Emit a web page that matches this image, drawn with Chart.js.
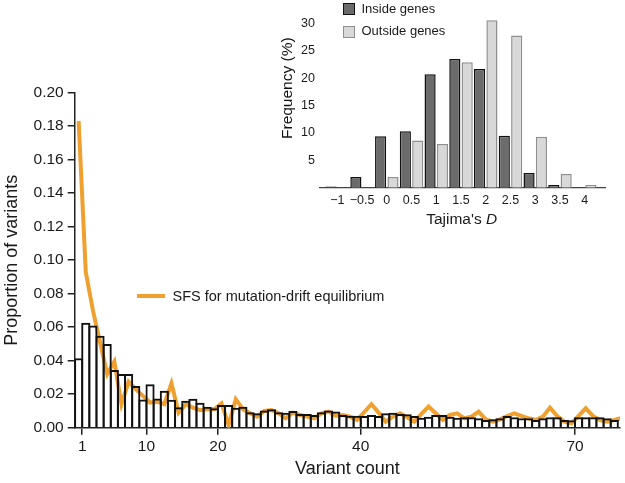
<!DOCTYPE html>
<html><head><meta charset="utf-8">
<script src="https://cdn.jsdelivr.net/npm/chart.js@4/dist/chart.umd.min.js"></script>
<style>
html,body{margin:0;padding:0;background:#fff;}
#wrap{position:relative;width:625px;height:483px;overflow:hidden;font-family:"Liberation Sans",Arial,sans-serif;color:#1a1a1a;}
canvas{position:absolute;}
#main{left:0;top:0;width:625px;height:483px;}
#inset{left:275px;top:0;width:345px;height:235px;}
.lbl{position:absolute;white-space:nowrap;font-weight:normal;}
.sw{position:absolute;box-sizing:border-box;width:12px;height:12px;}
</style></head><body>
<div id="wrap">
<canvas id="main" width="625" height="483"></canvas>
<canvas id="inset" width="345" height="235"></canvas>
<div class="lbl" style="left:137px;top:294px;width:28px;height:4px;background:#EFA02E"></div>
<div class="lbl" style="left:172.5px;top:287px;font-size:14.5px;line-height:18px">SFS for mutation-drift equilibrium</div>
<div class="sw" style="left:343px;top:3px;background:#6b6b6b;border:1.5px solid #111"></div>
<div class="lbl" style="left:361.5px;top:0.5px;font-size:13px;line-height:16px">Inside genes</div>
<div class="sw" style="left:343px;top:25.5px;background:#d8d8d8;border:1.5px solid #8f8f8f"></div>
<div class="lbl" style="left:361.5px;top:23px;font-size:13px;line-height:16px">Outside genes</div>
<div class="lbl" style="left:361.7px;top:208.5px;width:200px;text-align:center;font-size:15.5px;line-height:19px">Tajima's <i>D</i></div>
<div class="lbl" style="left:276.5px;top:39px;width:19px;height:100px;font-size:15.5px;line-height:19px;color:#111;writing-mode:vertical-rl;transform:rotate(180deg);text-align:center">Frequency (%)</div>
</div>
<script>
// ---- Main chart data ----
const variantCount = Array.from({length: 76}, (_, i) => i + 1);
const variantProportion = [
  0.0414, 0.0627, 0.0610, 0.0549, 0.0500, 0.0344, 0.0320, 0.0320, 0.0249, 0.0169,
  0.0259, 0.0175, 0.0221, 0.0167, 0.0122, 0.0161, 0.0173, 0.0149, 0.0125, 0.0116,
  0.0135, 0.0135, 0.0119, 0.0125, 0.0092, 0.0086, 0.0102, 0.0110, 0.0092, 0.0090,
  0.0100, 0.0082, 0.0082, 0.0076, 0.0092, 0.0102, 0.0096, 0.0076, 0.0072, 0.0072,
  0.0070, 0.0076, 0.0070, 0.0086, 0.0090, 0.0082, 0.0080, 0.0070, 0.0060, 0.0066,
  0.0076, 0.0076, 0.0066, 0.0060, 0.0062, 0.0062, 0.0056, 0.0046, 0.0050, 0.0056,
  0.0070, 0.0062, 0.0056, 0.0056, 0.0046, 0.0056, 0.0062, 0.0062, 0.0046, 0.0044,
  0.0062, 0.0062, 0.0062, 0.0062, 0.0056, 0.0046
];
const sfsEquilibrium = [
  0.1830, 0.0930, 0.0700, 0.0510, 0.0320, 0.0395, 0.0140, 0.0275, 0.0230, 0.0190,
  0.0150, 0.0155, 0.0140, 0.0265, 0.0090, 0.0140, 0.0120, 0.0105, 0.0110, 0.0110,
  0.0145, 0.0016, 0.0170, 0.0110, 0.0086, 0.0066, 0.0100, 0.0106, 0.0086, 0.0056,
  0.0090, 0.0076, 0.0066, 0.0056, 0.0086, 0.0096, 0.0072, 0.0076, 0.0066, 0.0046,
  0.0094, 0.0140, 0.0090, 0.0036, 0.0066, 0.0086, 0.0062, 0.0036, 0.0082, 0.0126,
  0.0086, 0.0046, 0.0076, 0.0086, 0.0056, 0.0066, 0.0096, 0.0050, 0.0036, 0.0050,
  0.0070, 0.0086, 0.0070, 0.0056, 0.0046, 0.0066, 0.0120, 0.0070, 0.0036, 0.0026,
  0.0070, 0.0116, 0.0070, 0.0046, 0.0036, 0.0046, 0.0058
];
const xTickValues = [1, 10, 20, 40, 70];
const xTickLabels = ['1', '10', '20', '40', '70'];
const yTickValues = [0, 0.02, 0.04, 0.06, 0.08, 0.10, 0.12, 0.14, 0.16, 0.18, 0.20];

// ---- Inset data ----
const tajimaBins = [-1, -0.5, 0, 0.5, 1, 1.5, 2, 2.5, 3, 3.5, 4];
const tajimaLabels = ['\u22121', '\u22120.5', '0', '0.5', '1', '1.5', '2', '2.5', '3', '3.5', '4'];
const insideGenes = [0.2, 1.95, 9.4, 10.3, 20.7, 23.5, 21.7, 9.5, 2.7, 0.5, 0];
const outsideGenes = [0, 0, 1.95, 8.6, 8.0, 22.9, 30.6, 27.8, 9.3, 2.5, 0.5];
const freqTicks = [5, 10, 15, 20, 25, 30];

const FONT = '"Liberation Sans", Arial, sans-serif';
const INK = '#1a1a1a';

new Chart(document.getElementById('main'), {
  type: 'bar',
  data: {
    datasets: [
      {
        type: 'bar',
        data: variantProportion.map((v, i) => ({x: variantCount[i] - 0.5, y: v})),
        backgroundColor: 'rgba(255,255,255,0)',
        borderColor: '#111',
        borderWidth: 2,
        borderSkipped: 'start',
        barPercentage: 1.28,
        categoryPercentage: 1,
        order: 1
      },
      {
        type: 'line',
        data: sfsEquilibrium.map((v, i) => ({x: i + 0.5, y: v})),
        borderColor: '#EFA02E',
        borderWidth: 4,
        pointRadius: 0,
        tension: 0,
        fill: false,
        order: 2
      }
    ]
  },
  options: {
    responsive: false, animation: false, events: [],
    layout: {padding: {top: 92.7, right: 5, left: 0, bottom: 0}},
    plugins: {legend: {display: false}, tooltip: {enabled: false}},
    scales: {
      x: {
        type: 'linear', min: -0.05, max: 76.3, offset: false,
        afterFit: s => { s.height = 55.3; },
        afterBuildTicks: s => { s.ticks = xTickValues.map(v => ({value: v})); },
        ticks: {autoSkip: false, maxRotation: 0, padding: 3, color: INK,
          font: {family: FONT, size: 15.5},
          callback: (v, i) => xTickLabels[i]},
        grid: {display: true, drawOnChartArea: false, drawTicks: true, tickLength: 7, color: '#222', lineWidth: 1.5, offset: false},
        border: {display: true, color: '#222', width: 1.5},
        title: {display: true, text: 'Variant count', color: INK,
          font: {family: FONT, size: 18}, padding: {top: 0, bottom: 3}}
      },
      y: {
        type: 'linear', min: 0, max: 0.2,
        afterFit: s => { s.width = 74.7; },
        afterBuildTicks: s => { s.ticks = yTickValues.map(v => ({value: v})); },
        ticks: {autoSkip: false, padding: 4, color: INK,
          font: {family: FONT, size: 15.5},
          callback: v => Number(v).toFixed(2)},
        grid: {display: true, drawOnChartArea: false, drawTicks: true, tickLength: 7, color: '#222', lineWidth: 1.5},
        border: {display: true, color: '#222', width: 1.5},
        title: {display: true, text: 'Proportion of variants', color: INK,
          font: {family: FONT, size: 18}, padding: {top: 1, bottom: 0}}
      }
    }
  }
});

new Chart(document.getElementById('inset'), {
  type: 'bar',
  data: {
    datasets: [
      {
        label: 'Inside genes',
        data: insideGenes.map((v, i) => ({x: tajimaBins[i], y: v})),
        backgroundColor: '#6b6b6b', borderColor: '#111', borderWidth: 1.5,
        barPercentage: 0.9, categoryPercentage: 1
      },
      {
        label: 'Outside genes',
        data: outsideGenes.map((v, i) => ({x: tajimaBins[i], y: v})),
        backgroundColor: '#d8d8d8', borderColor: '#8f8f8f', borderWidth: 1.5,
        barPercentage: 0.9, categoryPercentage: 1
      }
    ]
  },
  options: {
    responsive: false, animation: false, events: [],
    layout: {padding: {top: 6.6, right: 15, left: 0, bottom: 0}},
    plugins: {legend: {display: false}, tooltip: {enabled: false}},
    scales: {
      x: {
        type: 'linear', min: -1.35, max: 4.41, offset: false,
        afterFit: s => { s.height = 47.3; },
        afterBuildTicks: s => { s.ticks = tajimaBins.map(v => ({value: v})); },
        ticks: {autoSkip: false, maxRotation: 0, padding: 5, color: INK,
          font: {family: FONT, size: 12.5},
          callback: (v, i) => tajimaLabels[i]},
        grid: {display: true, drawOnChartArea: false, drawTicks: false, offset: false},
        border: {display: true, color: '#444', width: 1.2}
      },
      y: {
        type: 'linear', min: 0, max: 32,
        afterFit: s => { s.width = 45; },
        afterBuildTicks: s => { s.ticks = freqTicks.map(v => ({value: v})); },
        ticks: {autoSkip: false, padding: 5, color: INK,
          font: {family: FONT, size: 12.5}},
        grid: {display: false, drawTicks: false},
        border: {display: false}
      }
    }
  }
});
</script>
</body></html>
